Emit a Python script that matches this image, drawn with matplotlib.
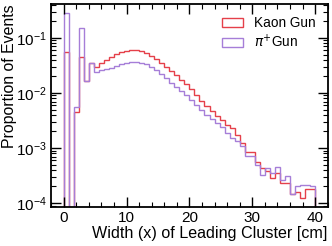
import numpy as np
import matplotlib
matplotlib.use("Agg")
import matplotlib.pyplot as plt
from matplotlib.patches import Rectangle
from matplotlib.ticker import MultipleLocator, LogLocator, NullFormatter

plt.rcParams['font.family'] = ['Liberation Sans', 'DejaVu Sans']
plt.rcParams['mathtext.fontset'] = 'dejavusans'

# 50 bins of 0.8 cm from 0 to 40
edges = np.linspace(0, 40, 51)

kaon = [0.056, 0.0, 0.0045, 0.045, 0.0165, 0.0347, 0.030, 0.0356, 0.040, 0.0446,
        0.0506, 0.055, 0.0588, 0.0612, 0.0612, 0.058, 0.054, 0.0477, 0.0415, 0.0356,
        0.030, 0.0254, 0.0212, 0.0172, 0.0144, 0.0117, 0.0092, 0.00716, 0.0058, 0.0047,
        0.0038, 0.0032, 0.0026, 0.0023, 0.00175, 0.00123, 0.00084, 0.00084, 0.00055, 0.00043,
        0.00038, 0.000285, 0.00035, 0.00023, 0.00023, 0.000148, 0.00016, 0.000125, 0.00018, 0.00018]

pion = [0.285, 0.0, 0.0056, 0.152, 0.0165, 0.0347, 0.0244, 0.0262, 0.0273, 0.0288,
        0.031, 0.0333, 0.0356, 0.0371, 0.0371, 0.0356, 0.0337, 0.030, 0.0262, 0.0222,
        0.0185, 0.0154, 0.013, 0.0109, 0.0092, 0.00746, 0.00605, 0.0049, 0.004, 0.0033,
        0.0028, 0.00238, 0.00187, 0.00152, 0.00132, 0.00107, 0.00071, 0.00071, 0.0005, 0.00033,
        0.00043, 0.00035, 0.00046, 0.000265, 0.000314, 0.000148, 0.0002, 0.000215, 0.000215, 0.0002]

red = '#e5404a'
purple = '#a67ed8'

fig = plt.figure(figsize=(3.32, 2.46), dpi=100)
ax = fig.add_axes([0.154, 0.16, 0.833, 0.824])

ax.stairs(kaon, edges, baseline=1e-12, color=red, lw=1.0)
ax.stairs(pion, edges, baseline=1e-12, color=purple, lw=1.0)

ax.set_yscale('log')
ax.set_xlim(-2, 42)
ax.set_ylim(8.6e-5, 0.415)

ax.xaxis.set_major_locator(MultipleLocator(10))
ax.xaxis.set_minor_locator(MultipleLocator(2))
ax.yaxis.set_major_locator(LogLocator(base=10, numticks=10))
ax.yaxis.set_minor_locator(LogLocator(base=10, subs=np.arange(2, 10), numticks=10))
ax.yaxis.set_minor_formatter(NullFormatter())

ax.tick_params(which='both', direction='in', top=True, right=True, labelsize=11, pad=3)
ax.tick_params(which='major', length=7, width=1.0)
ax.tick_params(which='minor', length=3.5, width=0.8)
for s in ax.spines.values():
    s.set_linewidth(1.3)

ax.set_xlabel('Width (x) of Leading Cluster [cm]', fontsize=11.6, loc='right', labelpad=1)
ax.set_ylabel('Proportion of Events', fontsize=11.4, loc='top')
ax.yaxis.set_label_coords(-0.125, 1.0)

handles = [Rectangle((0, 0), 1, 1, facecolor='none', edgecolor=red, lw=1.0),
           Rectangle((0, 0), 1, 1, facecolor='none', edgecolor=purple, lw=1.0)]
ax.legend(handles, ['Kaon Gun', r'$\pi^{+}$Gun'], loc='upper right', frameon=False,
          fontsize=9.8, handlelength=1.5, handleheight=0.6, handletextpad=0.8,
          labelspacing=0.2, borderaxespad=0.0, borderpad=0.0,
          bbox_to_anchor=(0.955, 0.94))

fig.savefig('out.png', dpi=100)
